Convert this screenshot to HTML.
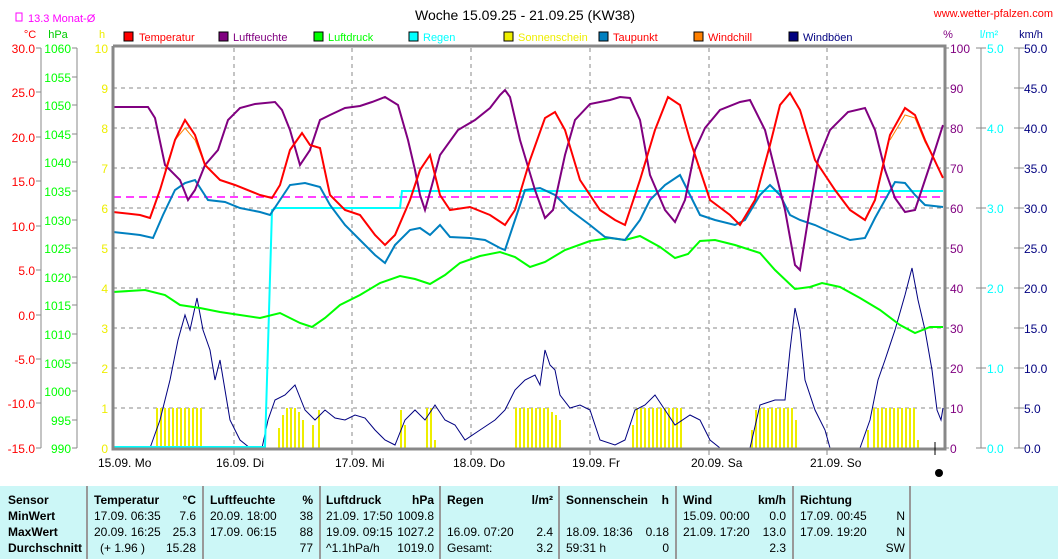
<!DOCTYPE html>
<html><head><meta charset="utf-8"><style>
body{margin:0;background:#fff;width:1058px;height:559px;overflow:hidden}
svg{display:block;font-family:"Liberation Sans",sans-serif}
</style></head><body>
<svg width="1058" height="559" xmlns="http://www.w3.org/2000/svg" font-size="12">
<text x="525" y="20" font-size="14" text-anchor="middle" fill="#000">Woche 15.09.25 - 21.09.25 (KW38)</text>
<text x="1053" y="17" font-size="11" text-anchor="end" fill="red">www.wetter-pfalzen.com</text>
<rect x="16" y="13" width="6" height="8" fill="none" stroke="#f0f"/>
<text x="28" y="22" font-size="11" fill="#f0f">13.3 Monat-Ø</text>
<text x="30" y="38" font-size="11" fill="red" text-anchor="middle">°C</text>
<text x="58" y="38" font-size="11" fill="#0c0" text-anchor="middle">hPa</text>
<text x="102" y="38" font-size="11" fill="#ee0" text-anchor="middle">h</text>
<text x="948" y="38" font-size="11" fill="purple" text-anchor="middle">%</text>
<text x="989" y="38" font-size="11" fill="cyan" text-anchor="middle">l/m²</text>
<text x="1031" y="38" font-size="11" fill="navy" text-anchor="middle">km/h</text>
<g font-size="11">
<rect x="124" y="32" width="9" height="9" fill="red" stroke="#000"/><text x="139" y="41" fill="red">Temperatur</text>
<rect x="219" y="32" width="9" height="9" fill="purple" stroke="#000"/><text x="233" y="41" fill="purple">Luftfeuchte</text>
<rect x="314" y="32" width="9" height="9" fill="#0f0" stroke="#000"/><text x="328" y="41" fill="#0f0">Luftdruck</text>
<rect x="409" y="32" width="9" height="9" fill="cyan" stroke="#000"/><text x="423" y="41" fill="cyan">Regen</text>
<rect x="504" y="32" width="9" height="9" fill="#ee0" stroke="#000"/><text x="518" y="41" fill="#ee0">Sonnenschein</text>
<rect x="599" y="32" width="9" height="9" fill="#0080c0" stroke="#000"/><text x="613" y="41" fill="red">Taupunkt</text>
<rect x="694" y="32" width="9" height="9" fill="#ff8000" stroke="#000"/><text x="708" y="41" fill="red">Windchill</text>
<rect x="789" y="32" width="9" height="9" fill="navy" stroke="#000"/><text x="803" y="41" fill="navy">Windböen</text>
</g>
<!-- grid -->
<g stroke="#888" stroke-dasharray="4,4" stroke-width="1">
<line x1="113" y1="88" x2="943" y2="88"/><line x1="113" y1="128" x2="943" y2="128"/><line x1="113" y1="168" x2="943" y2="168"/><line x1="113" y1="208" x2="943" y2="208"/><line x1="113" y1="248" x2="943" y2="248"/><line x1="113" y1="288" x2="943" y2="288"/><line x1="113" y1="328" x2="943" y2="328"/><line x1="113" y1="368" x2="943" y2="368"/><line x1="113" y1="408" x2="943" y2="408"/>
<line x1="234" y1="48" x2="234" y2="448"/><line x1="352" y1="48" x2="352" y2="448"/><line x1="471" y1="48" x2="471" y2="448"/><line x1="590" y1="48" x2="590" y2="448"/><line x1="709" y1="48" x2="709" y2="448"/><line x1="827" y1="48" x2="827" y2="448"/>
</g>
<!-- sunshine -->
<g stroke="#ee0" stroke-width="2" id="sun"></g>
<g stroke="#ee0" stroke-width="2">
<path d="M157 448V408M161 448V408M165 448V408M169 448V408M173 448V408M177 448V408M181 448V408M185 448V408M189 448V408M193 448V408M197 448V408M201 448V408
M279 448V428M283 448V415M287 448V408M291 448V408M295 448V408M299 448V412M303 448V420M313 448V425M319 448V410
M401 448V410M405 448V425M427 448V408M431 448V408M435 448V440
M516 448V408M520 448V408M524 448V408M528 448V408M532 448V408M536 448V408M540 448V408M544 448V408M548 448V408M552 448V412M556 448V415M560 448V420
M633 448V425M637 448V408M641 448V408M645 448V408M649 448V408M653 448V408M657 448V408M661 448V408M665 448V408M669 448V408M673 448V408M677 448V408M681 448V408
M752 448V430M756 448V410M760 448V408M764 448V408M768 448V408M772 448V408M776 448V408M780 448V408M784 448V408M788 448V408M792 448V408M796 448V420
M868 448V430M874 448V408M878 448V408M882 448V408M886 448V408M890 448V408M894 448V408M898 448V408M902 448V408M906 448V408M910 448V408M914 448V408M918 448V440"/>
</g>
<line x1="113" y1="197" x2="943" y2="197" stroke="#f0f" stroke-dasharray="8,5" stroke-width="1.5"/>
<polyline fill="none" stroke="navy" stroke-width="1" points="113,448 150,448 160,420 170,380 178,340 185,315 190,330 197,298 203,330 210,350 215,380 220,360 225,390 230,420 240,440 250,448 262,448 268,420 275,400 285,395 295,385 305,410 315,420 325,410 335,418 345,420 355,415 365,418 375,430 385,440 395,445 405,420 415,410 425,420 435,405 445,420 455,425 465,440 480,430 495,420 505,410 515,390 525,380 535,375 540,385 545,350 550,365 555,370 560,395 570,408 580,405 590,410 600,440 615,445 625,440 635,410 645,405 655,395 665,410 675,425 690,415 700,420 710,440 720,448 750,448 760,405 775,400 785,400 790,350 795,308 800,330 805,380 815,410 825,430 830,448 860,448 870,420 878,380 885,360 895,330 905,295 912,268 918,300 925,330 932,370 937,410 941,420 943,408"/>
<polyline fill="none" stroke="cyan" stroke-width="2" points="113,447 265,447 272,210 276,208 400,208 402,191 943,191"/>
<polyline fill="none" stroke="#0f0" stroke-width="2" points="113,292 145,290 165,295 180,305 200,308 220,312 240,315 260,318 280,313 300,323 312,327 325,318 340,305 360,295 380,283 400,276 415,279 430,284 445,275 460,263 480,256 500,252 515,257 530,267 545,262 565,250 590,241 610,238 625,240 640,236 660,247 675,258 688,254 700,241 715,240 735,245 760,253 775,270 795,289 810,287 822,283 840,287 860,298 880,310 900,325 915,333 930,327 943,327"/>
<polyline fill="none" stroke="#0080c0" stroke-width="2" points="113,232 140,235 153,238 163,215 175,190 185,183 195,180 208,200 225,202 240,208 260,212 270,215 280,200 290,185 305,183 320,187 330,205 345,225 360,240 375,255 385,263 395,245 410,230 420,228 430,235 440,225 450,237 470,238 485,240 500,248 505,250 515,220 525,190 540,188 555,195 570,210 590,225 605,237 625,240 640,220 650,200 665,185 680,175 690,195 700,215 715,220 735,225 745,220 760,195 770,185 780,195 790,215 800,220 815,225 830,232 850,240 865,238 875,218 885,200 895,182 905,183 915,195 925,205 943,207"/>
<polyline fill="none" stroke="#ff8000" stroke-width="1" points="165,170 175,140 185,128 195,140 205,165 M0,0"/>
<polyline fill="none" stroke="#ff8000" stroke-width="1" points="890,140 905,115 915,118 925,142 935,160"/>
<polyline fill="none" stroke="purple" stroke-width="2" points="113,107 148,107 155,118 165,165 180,180 188,200 195,190 205,165 218,150 228,120 240,108 255,104 275,102 282,110 290,130 300,165 310,150 320,120 330,115 345,108 360,106 372,102 385,97 398,105 408,140 415,170 420,195 425,210 432,185 440,155 458,130 475,120 490,108 500,95 505,90 510,97 520,140 535,190 545,218 553,210 565,155 575,120 590,104 610,100 620,97 630,98 640,120 650,175 665,210 675,222 685,200 695,150 705,128 720,110 740,102 750,100 765,130 775,170 785,210 795,265 800,270 808,220 818,160 830,130 848,112 865,108 875,130 885,170 895,198 905,212 915,210 925,180 935,150 943,125"/>
<polyline fill="none" stroke="red" stroke-width="2" points="113,212 140,215 150,218 160,190 175,140 185,120 195,135 205,165 220,180 235,185 260,195 272,198 280,185 290,150 302,133 310,145 320,148 330,195 345,210 360,215 375,235 385,245 395,235 410,200 420,170 430,155 440,195 450,210 470,207 490,215 505,225 515,210 530,160 545,118 555,112 565,130 580,180 600,210 615,220 625,225 640,180 655,130 668,97 680,105 690,140 710,200 730,215 740,225 755,200 770,145 780,105 790,93 800,110 815,160 835,190 850,210 865,220 875,200 890,135 905,108 915,115 925,140 943,178"/>
<!-- frame -->
<path d="M113 46V449H945V46H113" fill="none" stroke="#888" stroke-width="3"/>
<g stroke="#888" stroke-width="1" fill="none">
<line x1="41" y1="48" x2="41" y2="448"/><line x1="77" y1="48" x2="77" y2="448"/>
<line x1="981" y1="48" x2="981" y2="448"/><line x1="1019" y1="48" x2="1019" y2="448"/>
<line x1="234" y1="448" x2="234" y2="455"/><line x1="352" y1="448" x2="352" y2="455"/><line x1="471" y1="448" x2="471" y2="455"/><line x1="590" y1="448" x2="590" y2="455"/><line x1="709" y1="448" x2="709" y2="455"/><line x1="827" y1="448" x2="827" y2="455"/>
</g>
<g id="ticks" stroke="#888"></g>
<g font-size="12">
<g fill="red" text-anchor="end">
<text x="35" y="53">30.0</text><text x="35" y="97">25.0</text><text x="35" y="142">20.0</text><text x="35" y="186">15.0</text><text x="35" y="231">10.0</text><text x="35" y="275">5.0</text><text x="35" y="320">0.0</text><text x="35" y="364">-5.0</text><text x="35" y="408">-10.0</text><text x="35" y="453">-15.0</text>
</g>
<g fill="#0f0" text-anchor="end">
<text x="71" y="53">1060</text><text x="71" y="82">1055</text><text x="71" y="110">1050</text><text x="71" y="139">1045</text><text x="71" y="167">1040</text><text x="71" y="196">1035</text><text x="71" y="225">1030</text><text x="71" y="253">1025</text><text x="71" y="282">1020</text><text x="71" y="310">1015</text><text x="71" y="339">1010</text><text x="71" y="368">1005</text><text x="71" y="396">1000</text><text x="71" y="425">995</text><text x="71" y="453">990</text>
</g>
<g fill="#ee0" text-anchor="end">
<text x="108" y="53">10</text><text x="108" y="93">9</text><text x="108" y="133">8</text><text x="108" y="173">7</text><text x="108" y="213">6</text><text x="108" y="253">5</text><text x="108" y="293">4</text><text x="108" y="333">3</text><text x="108" y="373">2</text><text x="108" y="413">1</text><text x="108" y="453">0</text>
</g>
<g fill="purple">
<text x="950" y="53">100</text><text x="950" y="93">90</text><text x="950" y="133">80</text><text x="950" y="173">70</text><text x="950" y="213">60</text><text x="950" y="253">50</text><text x="950" y="293">40</text><text x="950" y="333">30</text><text x="950" y="373">20</text><text x="950" y="413">10</text><text x="950" y="453">0</text>
</g>
<g fill="cyan">
<text x="987" y="53">5.0</text><text x="987" y="133">4.0</text><text x="987" y="213">3.0</text><text x="987" y="293">2.0</text><text x="987" y="373">1.0</text><text x="987" y="453">0.0</text>
</g>
<g fill="navy">
<text x="1024" y="53">50.0</text><text x="1024" y="93">45.0</text><text x="1024" y="133">40.0</text><text x="1024" y="173">35.0</text><text x="1024" y="213">30.0</text><text x="1024" y="253">25.0</text><text x="1024" y="293">20.0</text><text x="1024" y="333">15.0</text><text x="1024" y="373">10.0</text><text x="1024" y="413">5.0</text><text x="1024" y="453">0.0</text>
</g>
<g fill="#000">
<text x="98" y="467">15.09.  Mo</text><text x="216" y="467">16.09.  Di</text><text x="335" y="467">17.09.  Mi</text><text x="453" y="467">18.09.  Do</text><text x="572" y="467">19.09.  Fr</text><text x="691" y="467">20.09.  Sa</text><text x="810" y="467">21.09.  So</text>
</g>
</g>
<g stroke="#888">
<path d="M36 48h5M36 92h5M36 137h5M36 181h5M36 226h5M36 270h5M36 315h5M36 359h5M36 403h5M36 448h5
M72 48h5M72 77h5M72 105h5M72 134h5M72 162h5M72 191h5M72 220h5M72 248h5M72 277h5M72 305h5M72 334h5M72 363h5M72 391h5M72 420h5M72 448h5
M945 48h4M945 88h4M945 128h4M945 168h4M945 208h4M945 248h4M945 288h4M945 328h4M945 368h4M945 408h4M945 448h4
M976 48h10M976 128h10M976 208h10M976 288h10M976 368h10M976 448h10
M1014 48h10M1014 88h10M1014 128h10M1014 168h10M1014 208h10M1014 248h10M1014 288h10M1014 328h10M1014 368h10M1014 408h10M1014 448h10"/>
</g>
<line x1="935" y1="442" x2="935" y2="455" stroke="#000"/>
<circle cx="939" cy="473" r="4" fill="#000"/>
<!-- table -->
<rect x="0" y="486" width="1058" height="73" fill="#ccf7f7"/>
<g stroke="#999" stroke-width="2"><path d="M87 486V559M203 486V559M320 486V559M440 486V559M559 486V559M676 486V559M793 486V559M910 486V559"/></g>
<g font-size="12" fill="#000">
<g font-weight="bold"><text x="8" y="504">Sensor</text><text x="8" y="520">MinWert</text><text x="8" y="536">MaxWert</text><text x="8" y="552">Durchschnitt</text>
<text x="94" y="504">Temperatur</text><text x="196" y="504" text-anchor="end">°C</text>
<text x="210" y="504">Luftfeuchte</text><text x="313" y="504" text-anchor="end">%</text>
<text x="326" y="504">Luftdruck</text><text x="434" y="504" text-anchor="end">hPa</text>
<text x="447" y="504">Regen</text><text x="553" y="504" text-anchor="end">l/m²</text>
<text x="566" y="504">Sonnenschein</text><text x="669" y="504" text-anchor="end">h</text>
<text x="683" y="504">Wind</text><text x="786" y="504" text-anchor="end">km/h</text>
<text x="800" y="504">Richtung</text></g>
<text x="94" y="520">17.09.  06:35</text><text x="196" y="520" text-anchor="end">7.6</text>
<text x="94" y="536">20.09.  16:25</text><text x="196" y="536" text-anchor="end">25.3</text>
<text x="100" y="552">(+ 1.96 )</text><text x="196" y="552" text-anchor="end">15.28</text>
<text x="210" y="520">20.09.  18:00</text><text x="313" y="520" text-anchor="end">38</text>
<text x="210" y="536">17.09.  06:15</text><text x="313" y="536" text-anchor="end">88</text>
<text x="313" y="552" text-anchor="end">77</text>
<text x="326" y="520">21.09.  17:50</text><text x="434" y="520" text-anchor="end">1009.8</text>
<text x="326" y="536">19.09.  09:15</text><text x="434" y="536" text-anchor="end">1027.2</text>
<text x="326" y="552">^1.1hPa/h</text><text x="434" y="552" text-anchor="end">1019.0</text>
<text x="447" y="536">16.09.  07:20</text><text x="553" y="536" text-anchor="end">2.4</text>
<text x="447" y="552">Gesamt:</text><text x="553" y="552" text-anchor="end">3.2</text>
<text x="566" y="536">18.09.  18:36</text><text x="669" y="536" text-anchor="end">0.18</text>
<text x="566" y="552">59:31 h</text><text x="669" y="552" text-anchor="end">0</text>
<text x="683" y="520">15.09.  00:00</text><text x="786" y="520" text-anchor="end">0.0</text>
<text x="683" y="536">21.09.  17:20</text><text x="786" y="536" text-anchor="end">13.0</text>
<text x="786" y="552" text-anchor="end">2.3</text>
<text x="800" y="520">17.09.  00:45</text><text x="905" y="520" text-anchor="end">N</text>
<text x="800" y="536">17.09.  19:20</text><text x="905" y="536" text-anchor="end">N</text>
<text x="905" y="552" text-anchor="end">SW</text>
</g>
</svg>
</body></html>
